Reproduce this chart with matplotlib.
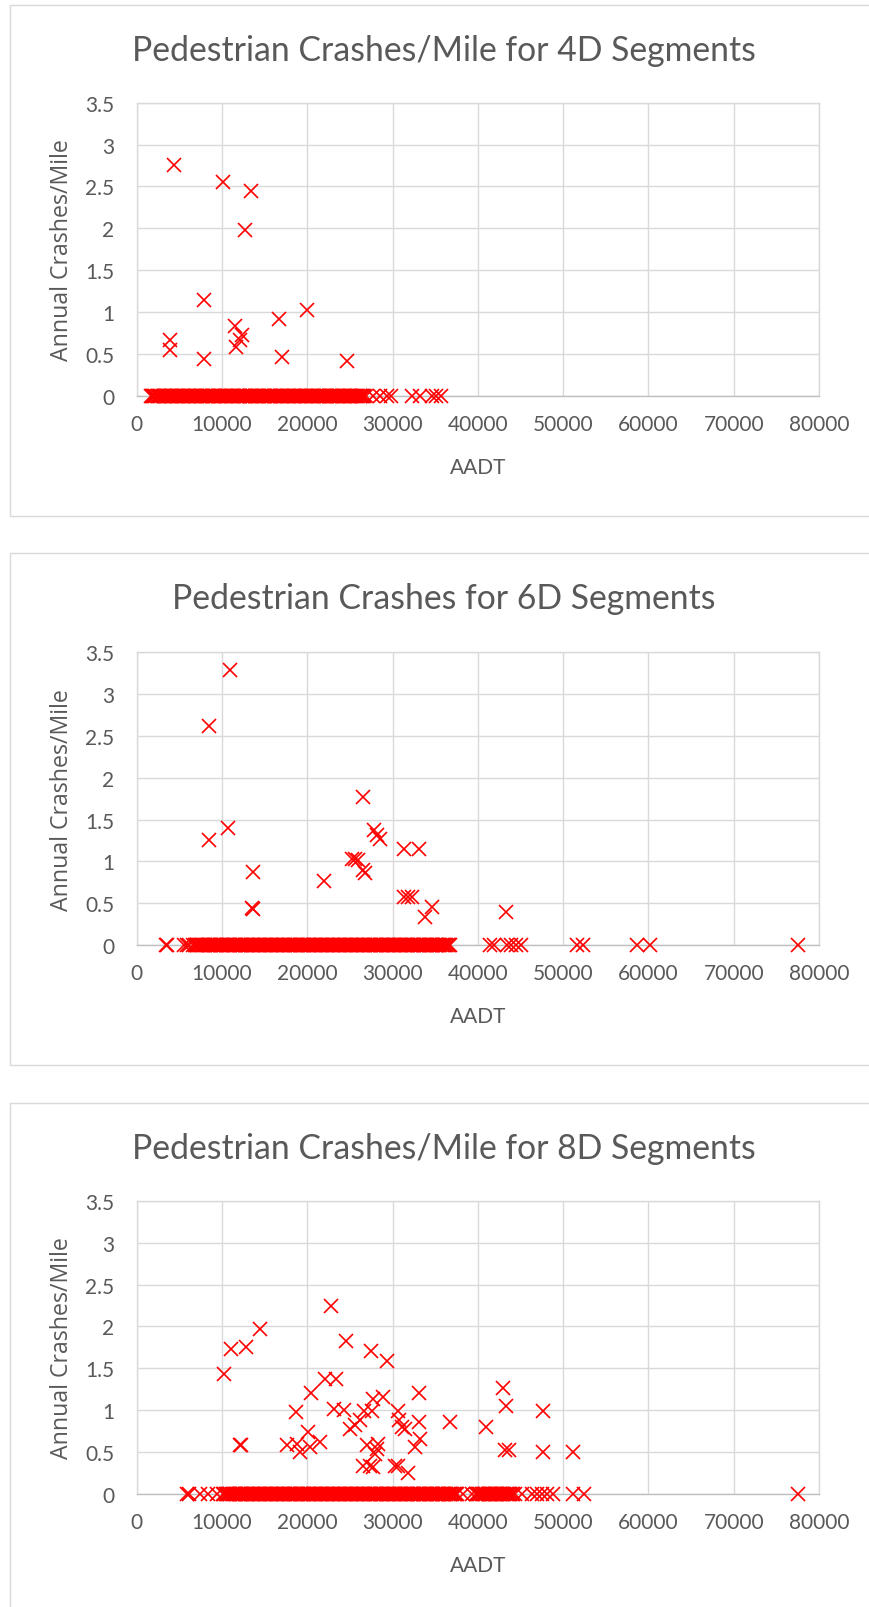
import matplotlib
matplotlib.use("Agg")
import matplotlib.pyplot as plt
from matplotlib.patches import Rectangle
import numpy as np

# ---------------- data ----------------
titles = ["Pedestrian Crashes/Mile for 4D Segments",
          "Pedestrian Crashes for 6D Segments",
          "Pedestrian Crashes/Mile for 8D Segments"]
x_label = "AADT"
y_label = "Annual Crashes/Mile"
x_ticks = [0, 10000, 20000, 30000, 40000, 50000, 60000, 70000, 80000]
y_ticks = [0, 0.5, 1, 1.5, 2, 2.5, 3, 3.5]
y_tick_labels = ["0", "0.5", "1", "1.5", "2", "2.5", "3", "3.5"]

# 4D segments with crashes
aadt_4d = [4400, 10100, 13400, 12650, 7850, 20000, 16650, 11550, 12400, 12150,
           3850, 3850, 11600, 7850, 17000, 24700]
rate_4d = [2.75, 2.55, 2.45, 1.98, 1.14, 1.02, 0.92, 0.83, 0.72, 0.66,
           0.66, 0.55, 0.58, 0.44, 0.46, 0.41]
# 4D segments with zero crashes (AADT)
aadt_4d_zero = [
    1650, 1790, 1920, 2070, 2190, 2350, 2490, 2620, 2770, 2890, 3050, 3190, 3320, 3470,
    3590, 3750, 3890, 4020, 4170, 4290, 4450, 4590, 4720, 4870, 4990, 5150, 5290, 5420,
    5570, 5690, 5850, 5990, 6120, 6270, 6390, 6550, 6690, 6820, 6970, 7090, 7250, 7390,
    7520, 7670, 7790, 7950, 8090, 8220, 8370, 8490, 8650, 8790, 8920, 9070, 9190, 9350,
    9490, 9620, 9770, 9890, 10050, 10190, 10320, 10470, 10590, 10750, 10890, 11020,
    11170, 11290, 11450, 11590, 11720, 11870, 11990, 12150, 12290, 12420, 12570, 12690,
    12850, 12990, 13120, 13270, 13390, 13550, 13690, 13820, 13970, 14090, 14250, 14390,
    14520, 14670, 14790, 14950, 15090, 15220, 15370, 15490, 15650, 15790, 15920, 16070,
    16190, 16350, 16490, 16620, 16770, 16890, 17050, 17190, 17320, 17470, 17590, 17750,
    17890, 18020, 18170, 18290, 18450, 18590, 18720, 18870, 18990, 19150, 19290, 19420,
    19570, 19690, 19850, 19990, 20120, 20270, 20390, 20550, 20690, 20820, 20970, 21090,
    21250, 21390, 21520, 21670, 21790, 21950, 22090, 22220, 22370, 22490, 22650, 22790,
    22920, 23070, 23190, 23350, 23490, 23620, 23770, 23890, 24050, 24190, 24320, 24470,
    24590, 24750, 24890, 25020, 25170, 25290, 25450, 25590, 25720, 25870, 25990, 26150,
    26290, 26420, 26570, 26690, 26850,
    27700, 28500, 29300, 29800, 32300, 33200, 34600, 35100, 35700]

# 6D segments with crashes
aadt_6d = [10900, 8500, 8450, 10750, 13600, 13550, 13650, 21950, 26550, 25200,
           25600, 25950, 26500, 26750, 27850, 28150, 28550, 31350, 33150, 31350,
           31850, 32250, 34600, 33800, 43250]
rate_6d = [3.29, 2.62, 1.26, 1.40, 0.87, 0.44, 0.43, 0.77, 1.77, 1.03,
           1.03, 1.02, 0.90, 0.86, 1.37, 1.31, 1.27, 1.15, 1.15, 0.58,
           0.58, 0.58, 0.46, 0.33, 0.40]
aadt_6d_zero = [
    3450, 3550, 5600, 5850, 6150,
    6650, 6790, 6920, 7070, 7190, 7350, 7490, 7620, 7770, 7890, 8050, 8190, 8320, 8470,
    8590, 8750, 8890, 9020, 9170, 9290, 9450, 9590, 9720, 9870, 9990, 10150, 10290,
    10420, 10570, 10690, 10850, 10990, 11120, 11270, 11390, 11550, 11690, 11820, 11970,
    12090, 12250, 12390, 12520, 12670, 12790, 12950, 13090, 13220, 13370, 13490, 13650,
    13790, 13920, 14070, 14190, 14350, 14490, 14620, 14770, 14890, 15050, 15190, 15320,
    15470, 15590, 15750, 15890, 16020, 16170, 16290, 16450, 16590, 16720, 16870, 16990,
    17150, 17290, 17420, 17570, 17690, 17850, 17990, 18120, 18270, 18390, 18550, 18690,
    18820, 18970, 19090, 19250, 19390, 19520, 19670, 19790, 19950, 20090, 20220, 20370,
    20490, 20650, 20790, 20920, 21070, 21190, 21350, 21490, 21620, 21770, 21890, 22050,
    22190, 22320, 22470, 22590, 22750, 22890, 23020, 23170, 23290, 23450, 23590, 23720,
    23870, 23990, 24150, 24290, 24420, 24570, 24690, 24850, 24990, 25120, 25270, 25390,
    25550, 25690, 25820, 25970, 26090, 26250, 26390, 26520, 26670, 26790, 26950, 27090,
    27220, 27370, 27490, 27650, 27790, 27920, 28070, 28190, 28350, 28490, 28620, 28770,
    28890, 29050, 29190, 29320, 29470, 29590, 29750, 29890, 30020, 30170, 30290, 30450,
    30590, 30720, 30870, 30990, 31150, 31290, 31420, 31570, 31690, 31850, 31990, 32120,
    32270, 32390, 32550, 32690, 32820, 32970, 33090, 33250, 33390, 33520, 33670, 33790,
    33950, 34090, 34220, 34370, 34490, 34650, 34790, 34920, 35070, 35190, 35350, 35490,
    35620, 35770, 35890, 36050, 36190, 36320, 36470, 36590, 36700,
    41400, 41900, 43400, 43900, 44500, 45100, 51600, 52300, 58700, 60200, 77500]

# 8D segments with crashes
aadt_8d = [22750, 14450, 11000, 12800, 10250, 24550, 27450, 29350, 22050, 23400,
           20400, 33100, 18650, 23150, 24300, 27750, 28900, 26600, 27550, 30650,
           36700, 33100, 30800, 31100, 31450, 25000, 25600, 26200, 20100, 17600,
           18750, 19150, 20300, 21450, 12150, 12250, 26950, 28150, 28350, 27950,
           26550, 27350, 27750, 30300, 30650, 31850, 32650, 33200, 42900, 43250,
           47650, 40950, 43150, 43650, 47600, 51200]
rate_8d = [2.24, 1.97, 1.73, 1.76, 1.43, 1.83, 1.71, 1.59, 1.37, 1.37,
           1.21, 1.21, 0.98, 1.01, 1.00, 1.14, 1.16, 0.99, 0.99, 0.99,
           0.86, 0.86, 0.88, 0.80, 0.77, 0.78, 0.82, 0.88, 0.74, 0.59,
           0.60, 0.50, 0.56, 0.62, 0.59, 0.58, 0.58, 0.54, 0.60, 0.48,
           0.34, 0.34, 0.32, 0.34, 0.34, 0.25, 0.56, 0.66, 1.26, 1.05,
           0.99, 0.80, 0.53, 0.53, 0.50, 0.50]
aadt_8d_zero = [
    5950, 6150, 7450, 8400, 9400,
    10150, 10290, 10420, 10570, 10690, 10850, 10990, 11120, 11270, 11390, 11550, 11690,
    11820, 11970, 12090, 12250, 12390, 12520, 12670, 12790, 12950, 13090, 13220, 13370,
    13490, 13650, 13790, 13920, 14070, 14190, 14350, 14490, 14620, 14770, 14890, 15050,
    15190, 15320, 15470, 15590, 15750, 15890, 16020, 16170, 16290, 16450, 16590, 16720,
    16870, 16990, 17150, 17290, 17420, 17570, 17690, 17850, 17990, 18120, 18270, 18390,
    18550, 18690, 18820, 18970, 19090, 19250, 19390, 19520, 19670, 19790, 19950, 20090,
    20220, 20370, 20490, 20650, 20790, 20920, 21070, 21190, 21350, 21490, 21620, 21770,
    21890, 22050, 22190, 22320, 22470, 22590, 22750, 22890, 23020, 23170, 23290, 23450,
    23590, 23720, 23870, 23990, 24150, 24290, 24420, 24570, 24690, 24850, 24990, 25120,
    25270, 25390, 25550, 25690, 25820, 25970, 26090, 26250, 26390, 26520, 26670, 26790,
    26950, 27090, 27220, 27370, 27490, 27650, 27790, 27920, 28070, 28190, 28350, 28490,
    28620, 28770, 28890, 29050, 29190, 29320, 29470, 29590, 29750, 29890, 30020, 30170,
    30290, 30450, 30590, 30720, 30870, 30990, 31150, 31290, 31420, 31570, 31690, 31850,
    31990, 32120, 32270, 32390, 32550, 32690, 32820, 32970, 33090, 33250, 33390, 33520,
    33670, 33790, 33950, 34090, 34220, 34370, 34490, 34650, 34790, 34920, 35070, 35190,
    35350, 35490, 35620, 35770, 35890, 36050, 36190, 36320, 36470, 36590, 36750, 36890,
    37020, 37170, 37290, 37450, 37600, 38300, 39300,
    39750, 39890, 40020, 40170, 40290, 40450, 40590, 40720, 40870, 40990, 41150, 41290,
    41420, 41570, 41690, 41850, 41990, 42120, 42270, 42390, 42550, 42690, 42820, 42970,
    43090, 43250, 43390, 43520, 43670, 43790, 43950, 44090, 44300,
    45150, 46300, 46900, 47500, 48100, 48800, 51200, 52400, 77500]

series = [(aadt_4d, rate_4d, aadt_4d_zero),
          (aadt_6d, rate_6d, aadt_6d_zero),
          (aadt_8d, rate_8d, aadt_8d_zero)]

# ---------------- layout (pixels) ----------------
W, H = 869, 1608
fig = plt.figure(figsize=(W / 100, H / 100), dpi=100)
TXT = '#595959'
GRID = '#D9D9D9'
RED = '#FF0000'
TICK_FONT = 'Lato'
LABEL_FONT = 'Open Sans'

ax_left, ax_right = 136.7, 819.0
layouts = [  # box_top, box_bottom, axes_top, axes_bottom
    (6, 517, 103.7, 396.7),
    (554, 1066, 653.4, 946.0),
    (1104, 1620, 1201.8, 1495.0),
]


def fx(px):
    return px / W


def fy(py):
    return 1 - py / H


# fit title font size to reference width
renderer = fig.canvas.get_renderer()
probe = fig.text(0, 0, titles[0], fontsize=20, family=TICK_FONT)
wpx = probe.get_window_extent(renderer).width
probe.remove()
title_fs = 20 * 626.0 / wpx

for (xs, ys, xz), title, (bt, bb, at, ab) in zip(series, titles, layouts):
    fig.patches.append(Rectangle((fx(10), fy(bb)), fx(900), (bb - bt) / H,
                                 transform=fig.transFigure, fill=False,
                                 edgecolor=GRID, lw=1.0, zorder=0))
    ax = fig.add_axes([fx(ax_left), fy(ab), (ax_right - ax_left) / W, (ab - at) / H])
    ax.set_xlim(0, 80000)
    ax.set_ylim(0, 3.5)
    ax.set_xticks(x_ticks)
    ax.set_xticklabels([str(t) for t in x_ticks])
    ax.set_yticks(y_ticks)
    ax.set_yticklabels(y_tick_labels)
    ax.grid(True, color=GRID, lw=1.0)
    ax.set_axisbelow(True)
    for s in ['top', 'right', 'left']:
        ax.spines[s].set_color(GRID)
        ax.spines[s].set_linewidth(1.0)
    ax.spines['bottom'].set_color('#BFBFBF')
    ax.spines['bottom'].set_linewidth(1.0)
    ax.tick_params(axis='both', length=0, labelsize=15, labelcolor=TXT)
    ax.tick_params(axis='x', pad=13)
    ax.tick_params(axis='y', pad=16)
    for lab in ax.get_xticklabels() + ax.get_yticklabels():
        lab.set_family(TICK_FONT)
    ax.plot(xz, np.zeros(len(xz)), linestyle='none', marker='x', ms=10, mew=1.2,
            color=RED, clip_on=False, zorder=3)
    ax.plot(xs, ys, linestyle='none', marker='x', ms=10, mew=1.2,
            color=RED, clip_on=False, zorder=3)

    fig.text(fx(443.5), fy(bt + 55), title, ha='center', va='baseline',
             fontsize=title_fs, family=TICK_FONT, color=TXT)
    fig.text(fx(61.7), fy((at + ab) / 2), y_label, rotation=90, ha='center',
             va='center', fontsize=16.7, family=LABEL_FONT, color=TXT)
    fig.text(fx((ax_left + ax_right) / 2), fy(ab + 71), x_label, ha='center',
             va='center', fontsize=15, family=TICK_FONT, color=TXT)

fig.savefig('out.png', dpi=100)
